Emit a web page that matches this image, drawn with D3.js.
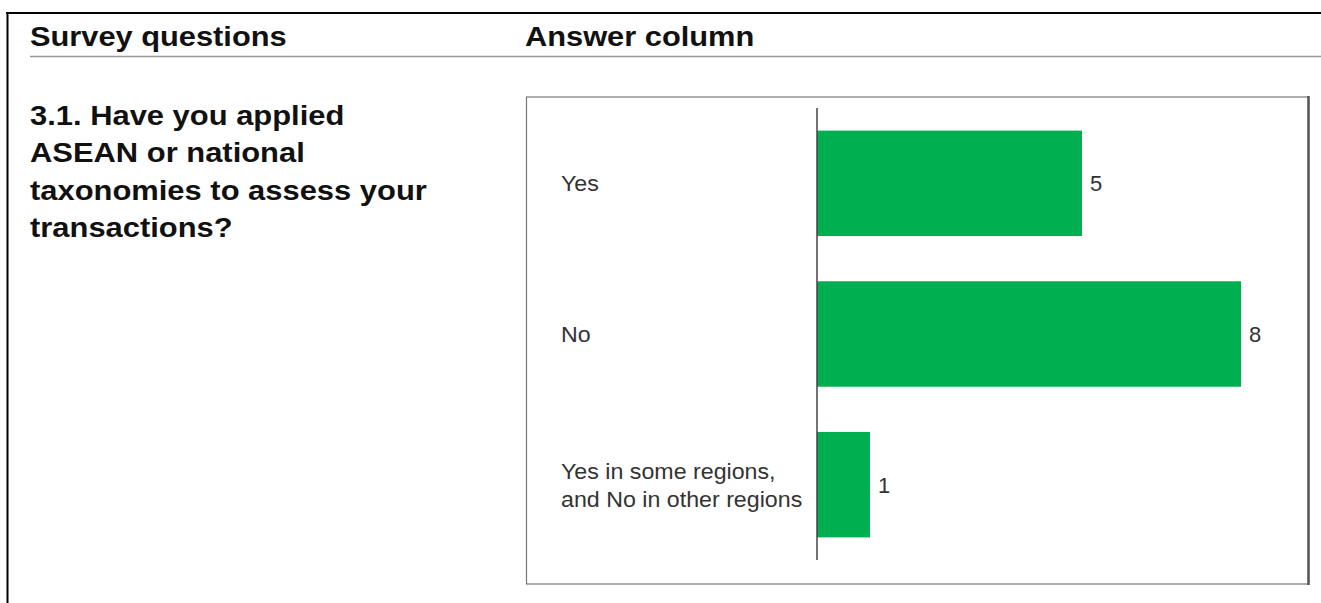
<!DOCTYPE html>
<html>
<head>
<meta charset="utf-8">
<script src="https://cdn.jsdelivr.net/npm/d3@7"></script>
<style>
  body { margin: 0; background: #fff; }
  text { font-family: "Liberation Sans", Arial, sans-serif; }
</style>
</head>
<body>
<div id="chart"></div>
<script>
// data
var categories = ["Yes", "No", "Yes in some regions,\nand No in other regions"];
var counts = [5, 8, 1];
var headers = ["Survey questions", "Answer column"];
var questionLines = ["3.1. Have you applied", "ASEAN or national", "taxonomies to assess your", "transactions?"];

var width = 1321,
	height = 603;

var svg = d3.select("#chart").append("svg")
	.attr("width", width)
	.attr("height", height);

// stretched text helper (reference glyphs are a bit wide)
function addText(x, y, str, size, weight, fill, sx) {
	return svg.append("text")
		.attr("transform", "translate(" + x + "," + y + ") scale(" + sx + ",1)")
		.attr("font-size", size)
		.attr("font-weight", weight)
		.attr("fill", fill)
		.text(str);
}

// page frame
svg.append("line").attr("x1", 6).attr("x2", width).attr("y1", 13).attr("y2", 13)
	.style("stroke", "#000").style("stroke-width", 2);
svg.append("line").attr("x1", 7.5).attr("x2", 7.5).attr("y1", 12).attr("y2", height)
	.style("stroke", "#000").style("stroke-width", 2);

// header row
addText(30, 46, headers[0], 28, "bold", "#111", 1.1);
addText(525, 46, headers[1], 28, "bold", "#111", 1.1);
svg.append("line").attr("x1", 30).attr("x2", width).attr("y1", 56.5).attr("y2", 56.5)
	.style("stroke", "#999").style("stroke-width", 1.5);

// question
questionLines.forEach(function(line, i) {
	addText(30, 125 + i * 37.4, line, 27, "bold", "#111", 1.145);
});

// chart box
svg.append("rect")
	.attr("x", 526.5).attr("y", 97)
	.attr("width", 782).attr("height", 487)
	.style("fill", "none").style("stroke", "#777").style("stroke-width", 1.2);
svg.append("line").attr("x1", 1308.5).attr("x2", 1308.5).attr("y1", 96).attr("y2", 585)
	.style("stroke", "#555").style("stroke-width", 2.5);

// scales
var x = d3.scaleLinear()
	.domain([0, d3.max(counts)])
	.range([817, 1241]);

var y = d3.scaleBand()
	.domain(categories)
	.range([108, 560])
	.paddingInner(0.3)
	.paddingOuter(0.15);

// bars
svg.append("g").selectAll("rect")
	.data(counts)
	.enter().append("rect")
		.attr("x", x(0))
		.attr("y", function(d, i) { return y(categories[i]); })
		.attr("width", function(d) { return x(d) - x(0); })
		.attr("height", y.bandwidth())
		.style("fill", "#00B050");

// axis line
svg.append("line")
	.attr("x1", x(0)).attr("x2", x(0))
	.attr("y1", y.range()[0]).attr("y2", y.range()[1])
	.style("stroke", "#444").style("stroke-width", 1.5);

// value labels
counts.forEach(function(d, i) {
	addText(x(d) + 8, y(categories[i]) + y.bandwidth() / 2 + 8, d, 22, "normal", "#333", 1.0);
});

// category labels
categories.forEach(function(c, i) {
	var lines = c.split("\n");
	var mid = y(c) + y.bandwidth() / 2;
	lines.forEach(function(l, j) {
		var yy = mid + 8 + (j - (lines.length - 1) / 2) * 28;
		addText(561, yy, l, 22, "normal", "#333", 1.055);
	});
});
</script>
</body>
</html>
